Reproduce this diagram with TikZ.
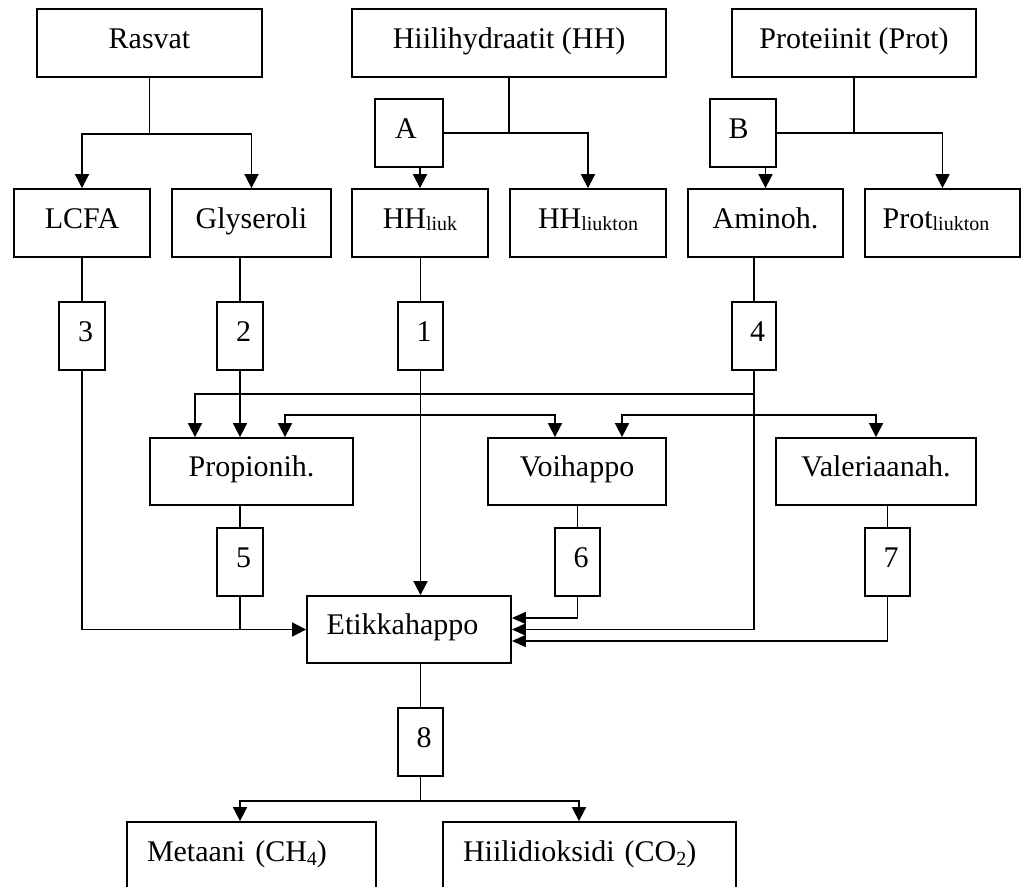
\documentclass[tikz,border=0pt]{standalone}
\usepackage{fontspec}
\setmainfont{Liberation Serif}
\usetikzlibrary{arrows.meta}
\newcommand\mysub[2][2.5pt]{\raisebox{-#1}{\fontsize{20}{20}\selectfont #2}}
\tikzset{
  bx/.style={draw, line width=1.8pt, rectangle, inner sep=0pt,
    text height=21pt, text depth=11pt, font=\fontsize{30}{36}\selectfont,
    minimum height=68pt},
  numbox/.style={bx, minimum width=46pt, execute at begin node={\kern7pt}},
  ln/.style={line width=1.7pt},
  arr/.style={ln, -{Triangle[width=14pt,length=14pt]}},
  arrs/.style={ln, -{Triangle[width=12pt,length=14pt]}},
  arrb/.style={ln, {Triangle[width=14pt,length=14pt]}-{Triangle[width=14pt,length=14pt]}},
}
\begin{document}
\begin{tikzpicture}[x=1pt,y=-1pt]
\useasboundingbox (0,0) rectangle (1032,886);
\clip (0,0) rectangle (1032,886);
% top row
\node[bx, minimum width=225pt] (rasvat) at (149.5,43) {Rasvat};
\node[bx, minimum width=314pt] (hh) at (509,43) {Hiilihydraatit (HH)};
\node[bx, minimum width=244pt] (prot) at (854,43) {Proteiinit (Prot)};
\node[bx, minimum width=68pt, execute at end node={\kern6pt}] (A) at (409,133) {A};
\node[bx, minimum width=66pt, execute at end node={\kern9pt}] (B) at (743,133) {B};
% second row
\node[bx, minimum width=136pt] (lcfa) at (82,223) {LCFA};
\node[bx, minimum width=159pt] (glys) at (251.5,223) {Glyseroli};
\node[bx, minimum width=136pt] (hhl) at (420,223) {HH\mysub{liuk}};
\node[bx, minimum width=156pt] (hhlt) at (588,223) {HH\mysub{liukton}};
\node[bx, minimum width=155pt] (amino) at (765.5,223) {Aminoh.};
\node[bx, minimum width=155pt, execute at end node={\kern13pt}] (protl) at (942.5,223) {Prot\mysub{liukton}};
% number boxes
\node[numbox] (n3) at (82,336) {3};
\node[numbox] (n2) at (240,336) {2};
\node[numbox, minimum width=45pt] (n1) at (420.5,336) {1};
\node[numbox, minimum width=44pt] (n4) at (754,336) {4};
% acids
\node[bx, minimum width=203pt, minimum height=67pt] (prop) at (251.5,471.5) {Propionih.};
\node[bx, minimum width=178pt, minimum height=67pt] (voi) at (577,471.5) {Voihappo};
\node[bx, minimum width=200pt, minimum height=67pt] (val) at (876,471.5) {Valeriaanah.};
\node[numbox] (n5) at (240,562) {5};
\node[numbox, minimum width=45pt] (n6) at (577.5,562) {6};
\node[numbox, minimum width=45pt] (n7) at (887.5,562) {7};
\node[bx, minimum width=204pt, minimum height=67pt, execute at end node={\kern13pt}] (etik) at (409,629.5) {Etikkahappo};
\node[numbox, minimum width=45pt] (n8) at (420.5,742) {8};
\node[bx, minimum width=249pt, inner xsep=20pt, text width=209pt, align=left] (met) at (251.5,856) {Metaani (CH\mysub[4pt]{4})};
\node[bx, minimum width=293pt, inner xsep=20pt, text width=253pt, align=left] (co2) at (589.5,856) {Hiilidioksidi (CO\mysub[4pt]{2})};
% connectors top
\draw[ln] (rasvat.south) -- ++(0,56) coordinate (rj);
\draw[arr] (rj) -| (lcfa.north);
\draw[arr] (rj) -| (glys.north);
\draw[ln] (hh.south) -- (hh.south |- A.east);
\draw[arr] (A.east) -| (hhlt.north);
\draw[arr] (hhl.north |- A.south) -- (hhl.north);
\draw[ln] (prot.south) -- (prot.south |- B.east);
\draw[arr] (B.east) -| (protl.north);
\draw[arr] (amino.north |- B.south) -- (amino.north);
% to number boxes
\draw[ln] (lcfa.south) -- (n3.north);
\draw[ln] (n2 |- glys.south) -- (n2.north);
\draw[ln] (n1 |- hhl.south) -- (n1.north);
\draw[ln] (n4 |- amino.south) -- (n4.north);
% middle
\draw[arr] (n2.south) -- (n2.south |- prop.north);
\draw[arr] ([yshift=-23pt]n4.south) -| ([xshift=-56.5pt]prop.north);
\draw[arrb] ([xshift=33.5pt]prop.north) -- ++(0,-22) -| ([xshift=-22pt]voi.north);
\draw[arrb] ([xshift=45pt]voi.north) -- ++(0,-22) -| (val.north);
\draw[arr] (n1.south) -- (n1.south |- etik.north);
\draw[ln] (prop.south -| n5) -- (n5.north);
\draw[ln] (voi.south -| n6) -- (n6.north);
\draw[ln] (val.south -| n7) -- (n7.north);
\draw[arr] (n3.south) |- (etik.west);
\draw[ln] (n5.south) -- (n5.south |- etik.west);
\draw[arrs] (n6.south) |- ([yshift=11.5pt]etik.east);
\draw[arrs] (n4.south) |- (etik.east);
\draw[arrs] (n7.south) |- ([yshift=-11.5pt]etik.east);
% bottom
\draw[ln] (n8.north |- etik.south) -- (n8.north);
\draw[ln] (n8.south) -- ++(0,24) coordinate (f8);
\draw[arr] (f8) -| ([xshift=-11.5pt]met.north);
\draw[arr] (f8) -| ([xshift=-10.5pt]co2.north);
\end{tikzpicture}
\end{document}
